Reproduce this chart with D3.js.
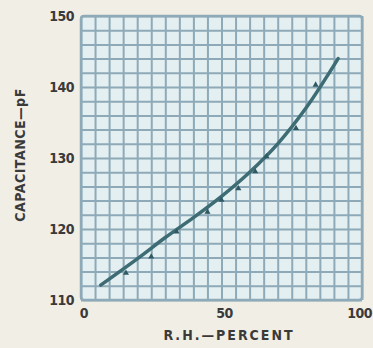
<!DOCTYPE html>
<html>
<head>
<meta charset="utf-8">
<script src="https://cdn.jsdelivr.net/npm/d3@7"></script>
<style>
  body { margin: 0; background: #f1eee6; }
  svg { display: block; }
  .tick-label { font-family: "DejaVu Sans", sans-serif; font-stretch: condensed; font-weight: bold; font-size: 14px; fill: #3a3a3a; letter-spacing: -0.5px; }
  .axis-title { font-family: "DejaVu Sans", sans-serif; font-stretch: condensed; font-weight: bold; font-size: 14px; fill: #3a3a3a; }
</style>
</head>
<body>
<div id="graphic"></div>
<script>
const WIDTH = 373;
const HEIGHT = 348;
const LEFT = 81;
const RIGHT = 362;
const TOP = 16;
const BOTTOM = 300;

// tick labels
const X_TICKS = [0, 50, 100];
const Y_TICKS = [110, 120, 130, 140, 150];

// fitted curve
const CURVE_RH = [7, 20, 30, 40, 50, 60, 70, 80, 91.5];
const CURVE_PF = [112.1, 115.8, 118.8, 121.6, 124.6, 128.0, 132.0, 137.0, 144.0];

// measured points
const POINT_RH = [16, 25, 34, 45, 50, 56, 62, 66, 76.5, 83.5];
const POINT_PF = [113.8, 116.1, 119.6, 122.4, 124.1, 125.7, 128.1, 130.2, 134.2, 140.3];

var svg = d3.select("#graphic")
  .append("svg")
  .attr("width", WIDTH)
  .attr("height", HEIGHT);

var xScale = d3.scaleLinear().domain([0, 100]).range([LEFT, RIGHT]);
var yScale = d3.scaleLinear().domain([110, 150]).range([BOTTOM, TOP]);

// plot background
svg.append("rect")
  .attr("x", LEFT)
  .attr("y", TOP)
  .attr("width", RIGHT - LEFT)
  .attr("height", BOTTOM - TOP)
  .attr("rx", 3)
  .attr("fill", "#e3eff0");

// grid lines, every 5 % and every 2 pF
var gridColor = "#8eaab8";
svg.append("g")
  .attr("transform", `translate(0, ${BOTTOM})`)
  .call(d3.axisBottom(xScale).tickValues(d3.range(0, 101, 5)).tickSize(-(BOTTOM - TOP)).tickFormat(""))
  .call(g => g.select(".domain").remove())
  .call(g => g.selectAll("line").attr("stroke", gridColor).attr("stroke-width", 2));

svg.append("g")
  .attr("transform", `translate(${LEFT}, 0)`)
  .call(d3.axisLeft(yScale).tickValues(d3.range(110, 151, 2)).tickSize(-(RIGHT - LEFT)).tickFormat(""))
  .call(g => g.select(".domain").remove())
  .call(g => g.selectAll("line").attr("stroke", gridColor).attr("stroke-width", 2));

svg.append("rect")
  .attr("x", LEFT)
  .attr("y", TOP)
  .attr("width", RIGHT - LEFT)
  .attr("height", BOTTOM - TOP)
  .attr("rx", 3)
  .attr("fill", "none")
  .attr("stroke", gridColor)
  .attr("stroke-width", 2.5);

// tick labels
svg.selectAll(".ylab")
  .data(Y_TICKS)
  .enter()
  .append("text")
  .attr("class", "tick-label")
  .attr("x", LEFT - 7)
  .attr("y", d => yScale(d) + 5)
  .attr("text-anchor", "end")
  .text(d => d);

svg.selectAll(".xlab")
  .data(X_TICKS)
  .enter()
  .append("text")
  .attr("class", "tick-label")
  .attr("x", d => d === 100 ? WIDTH - 1 : xScale(d) + 3)
  .attr("y", BOTTOM + 18)
  .attr("text-anchor", d => d === 100 ? "end" : "middle")
  .text(d => d);

// axis titles
svg.append("text")
  .attr("class", "axis-title")
  .attr("transform", `translate(25, ${(TOP + BOTTOM) / 2 - 3}) rotate(-90)`)
  .attr("text-anchor", "middle")
  .style("letter-spacing", "0.5px")
  .text("CAPACITANCE—pF");

svg.append("text")
  .attr("class", "axis-title")
  .attr("x", 229)
  .attr("y", 340)
  .attr("text-anchor", "middle")
  .style("letter-spacing", "2px")
  .text("R.H.—PERCENT");

// curve
var curveData = CURVE_RH.map((d, i) => ({ rh: d, pf: CURVE_PF[i] }));
var line = d3.line()
  .x(d => xScale(d.rh))
  .y(d => yScale(d.pf))
  .curve(d3.curveCatmullRom);

svg.append("path")
  .datum(curveData)
  .attr("d", line)
  .attr("fill", "none")
  .attr("stroke", "#3e6c74")
  .attr("stroke-width", 3.5)
  .attr("stroke-linecap", "round");

// measured points
var pointData = POINT_RH.map((d, i) => ({ rh: d, pf: POINT_PF[i] }));
svg.selectAll(".pt")
  .data(pointData)
  .enter()
  .append("path")
  .attr("transform", d => `translate(${xScale(d.rh)}, ${yScale(d.pf)})`)
  .attr("d", d3.symbol().type(d3.symbolTriangle).size(16))
  .attr("fill", "#2f5a63");
</script>
</body>
</html>
